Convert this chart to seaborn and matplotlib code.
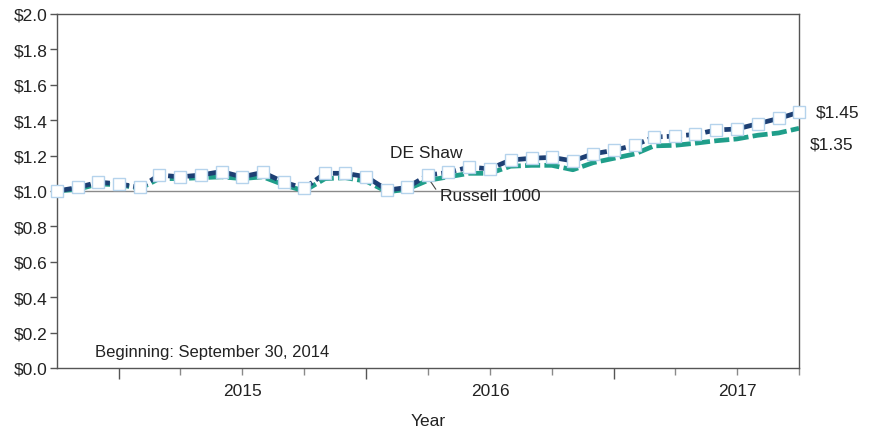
"""
Growth of $1: DE Shaw vs Russell 1000, monthly, Sep 2014 - Sep 2017
"""
import matplotlib
matplotlib.use("Agg")
import matplotlib.pyplot as plt
import matplotlib.dates as mdates
import matplotlib.ticker as mticker
import numpy as np
import pandas as pd
import seaborn as sns

# monthly month-end dates, Sep 30 2014 .. Sep 30 2017
dates = pd.date_range("2014-09-30", "2017-09-30", freq="ME")

de_shaw = [1.00, 1.02, 1.05, 1.04, 1.02, 1.09, 1.08, 1.09, 1.11, 1.08, 1.105, 1.05,
           1.015, 1.10, 1.10, 1.08, 1.005, 1.02, 1.09, 1.105, 1.135, 1.125, 1.175, 1.185,
           1.19, 1.17, 1.21, 1.23, 1.26, 1.305, 1.31, 1.32, 1.345, 1.35, 1.38, 1.41, 1.445]
russell = [1.00, 1.01, 1.04, 1.035, 1.015, 1.07, 1.07, 1.075, 1.08, 1.07, 1.08, 1.035,
           1.00, 1.07, 1.075, 1.055, 0.995, 1.01, 1.06, 1.08, 1.10, 1.10, 1.14, 1.145,
           1.145, 1.12, 1.16, 1.185, 1.21, 1.255, 1.258, 1.27, 1.284, 1.294, 1.315, 1.328, 1.354]

year_labels = ["2015", "2016", "2017"]
year_label_dates = pd.to_datetime(["2015-07-01", "2016-07-01", "2017-07-01"])
y_ticks = np.arange(0, 2.01, 0.2)

NAVY = "#1d3f73"
TEAL = "#1f9e8a"
MARKER_EDGE = "#b5d3ec"
AXIS_GRAY = "#555555"
TXT = "#222222"
FS = 12.5

sns.set_theme(style="white")
plt.rcParams["font.family"] = ["Liberation Sans", "DejaVu Sans"]

df = pd.DataFrame({"date": dates, "DE Shaw": de_shaw, "Russell 1000": russell})

fig = plt.figure(figsize=(8.8, 4.35), dpi=100)
ax = fig.add_axes([57 / 880, 1 - 369 / 435, 742 / 880, 354 / 435])

ax.axhline(1.0, color="#8a8a8a", linewidth=1.0, zorder=1)

sns.lineplot(data=df, x="date", y="Russell 1000", ax=ax, color=TEAL,
             linewidth=3.4, linestyle=(0, (3.2, 0.9)), zorder=3)
sns.lineplot(data=df, x="date", y="DE Shaw", ax=ax, color=NAVY,
             linewidth=3.4, linestyle=(0, (3.2, 0.9)), marker="s", markersize=8,
             markerfacecolor="white", markeredgecolor=MARKER_EDGE, markeredgewidth=1.0,
             zorder=4, clip_on=False)

ax.set_xlim(dates[0], dates[-1])
ax.set_ylim(0, 2.0)

# y axis
ax.set_yticks(y_ticks)
ax.yaxis.set_major_formatter(mticker.FuncFormatter(lambda v, _: f"${v:.1f}"))
ax.tick_params(axis="y", which="major", left=True, length=5, width=1, color=AXIS_GRAY,
               labelsize=FS, labelcolor=TXT, pad=2)

# x axis: long ticks at year ends, short ticks at quarter ends, year names mid-year
year_ends = pd.to_datetime(["2014-12-31", "2015-12-31", "2016-12-31"])
quarter_ends = pd.date_range("2015-03-31", "2017-09-30", freq="QE")
quarter_ends = [q for q in quarter_ends if q.month != 12]
ax.set_xticks(mdates.date2num(year_ends))
ax.set_xticklabels([""] * len(year_ends))
ax.set_xticks(mdates.date2num(quarter_ends), minor=True)
ax.tick_params(axis="x", which="major", bottom=True, length=8, width=1, color=AXIS_GRAY)
ax.tick_params(axis="x", which="minor", bottom=True, length=5, width=1, color="#8a8a8a")
for lab, d in zip(year_labels, year_label_dates):
    ax.text(mdates.date2num(d), -0.042, lab, transform=ax.get_xaxis_transform(),
            ha="center", va="top", fontsize=FS, color=TXT)

ax.set_xlabel("")
ax.set_ylabel("")
fig.text(428 / 880, 1 - 422 / 435, "Year", ha="center", va="center",
         fontsize=FS, color=TXT)

for s in ax.spines.values():
    s.set_visible(True)
    s.set_color(AXIS_GRAY)
    s.set_linewidth(1.0)

# annotations
ax.text(0.449, 0.610, "DE Shaw", transform=ax.transAxes, ha="left", va="center",
        fontsize=FS, color=TXT)
ax.annotate("Russell 1000", xy=(dates[18], 1.075),
            xytext=(0.516, 0.488), textcoords="axes fraction", ha="left", va="center",
            fontsize=FS, color=TXT,
            arrowprops=dict(arrowstyle="-", color="#444444", lw=0.8,
                            relpos=(0, 0.5), shrinkA=1, shrinkB=0))
ax.annotate(f"${de_shaw[-1]:.2f}", xy=(dates[-1], de_shaw[-1]), xytext=(12, 0),
            textcoords="offset points", ha="left", va="center", fontsize=FS,
            color=TXT, annotation_clip=False)
ax.annotate(f"${russell[-1]:.2f}", xy=(dates[-1], russell[-1]), xytext=(8, -11),
            textcoords="offset points", ha="left", va="center", fontsize=FS,
            color=TXT, annotation_clip=False)
ax.text(0.051, 0.048, "Beginning: September 30, 2014", transform=ax.transAxes,
        ha="left", va="center", fontsize=12, color=TXT)

fig.savefig("out.png", dpi=100)
